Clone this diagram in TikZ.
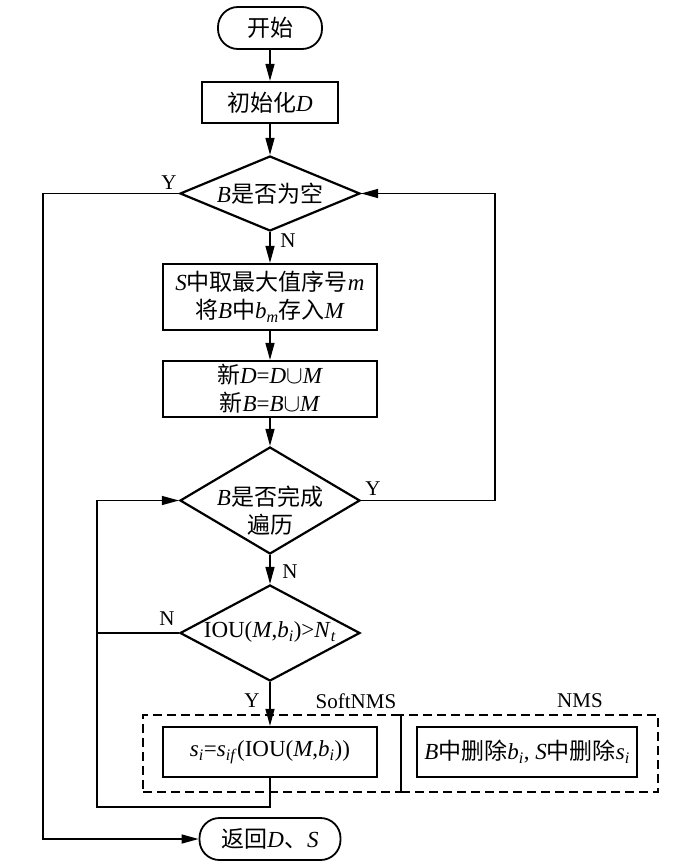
\documentclass[tikz,border=0pt]{standalone}
\usepackage{fontspec}
\setmainfont{Liberation Serif}
\newfontfamily\cjk{Noto Sans CJK SC}
\usetikzlibrary{shapes.geometric,arrows.meta}
\newcommand\zh[1]{{\cjk #1}}
\newcommand\vi[1]{\textit{#1}}
\newcommand\sub[1]{\textsubscript{\textit{#1}}}
\begin{document}
\begin{tikzpicture}[x=1pt,y=-1pt,
  every node/.style={font=\fontsize{23}{28}\selectfont},
  box/.style={draw,line width=2.2pt,rectangle,inner sep=0pt,align=center},
  term/.style={draw,line width=1.8pt,rounded corners=20pt,inner sep=0pt},
  dia/.style={draw,line width=2.2pt,diamond,inner sep=0pt},
  dbox/.style={draw,line width=1.3pt,dash pattern=on 9pt off 5pt,inner sep=0pt},
  conn/.style={line width=1.4pt},
  arr/.style={conn,-{Triangle[length=17pt,width=9pt]}},
  lab/.style={inner sep=0pt,font=\fontsize{21}{26}\selectfont}
]
\useasboundingbox (0,0) rectangle (700,862);

% dashed groups
\node[dbox,minimum width=258pt,minimum height=77pt] (soft) at (272,753.5) {};
\node[dbox,minimum width=257pt,minimum height=77pt] (nms) at (529.5,753.5) {};

% nodes
\node[term,minimum width=104pt,minimum height=42pt] (start) at (270,28) {\zh{开始}};
\node[box,minimum width=136pt,minimum height=41pt] (init) at (270,102.5) {\zh{初始化}\vi{D}};
\node[dia,minimum width=180pt,minimum height=75pt] (d1) at (270,193.5) {};
\node[inner sep=0pt] (d1t) at (270,193.5) {\vi{B}\zh{是否为空}};
\node[box,minimum width=214pt,minimum height=66pt] (sbox) at (270,297) {\vi{S}\zh{中取最大值序号}\vi{m}\\\zh{将}\vi{B}\zh{中}\vi{b}\sub{m}\zh{存入}\vi{M}};
\node[box,minimum width=214pt,minimum height=56pt] (nbox) at (270,389) {\zh{新}\vi{D}=\vi{D}$\cup$\vi{M}\\\zh{新}\vi{B}=\vi{B}$\cup$\vi{M}};
\node[dia,minimum width=180pt,minimum height=107pt] (d2) at (270,500.5) {};
\node[inner sep=0pt,align=center] (d2t) at (270,511) {\vi{B}\zh{是否完成}\\\zh{遍历}};
\node[dia,minimum width=180pt,minimum height=96pt] (d3) at (270,633) {};
\node[inner sep=0pt] (d3t) at (270,632) {IOU(\vi{M},\vi{b}\sub{i})>\vi{N}\sub{t}};
\node[box,minimum width=214pt,minimum height=50pt] (sibox) at (270,752) {\vi{s}\sub{i}=\vi{s}\sub{if}(IOU(\vi{M},\vi{b}\sub{i}))};
\node[box,minimum width=220pt,minimum height=50pt] (nmsbox) at (527,752) {\vi{B}\zh{中删除}\vi{b}\sub{i}, \vi{S}\zh{中删除}\vi{s}\sub{i}};
\node[term,minimum width=141pt,minimum height=42pt] (ret) at (270,839) {\zh{返回}\vi{D}\zh{、}\vi{S}};

% labels
\node[lab] (y1) at (169,183) {Y};
\node[lab] (n1) at (288,241) {N};
\node[lab] (y2) at (373,489) {Y};
\node[lab] (n2) at (290,572) {N};
\node[lab] (n3) at (167,619) {N};
\node[lab] (y3) at (252,701) {Y};
\node[lab] (softl) at (356,701) {SoftNMS};
\node[lab] (nmsl) at (580,701) {NMS};

% helper coordinates
\coordinate (lx) at (43,0);
\coordinate (rx) at (495,0);
\coordinate (mx) at (97,0);
\coordinate (by) at (0,807);

% connectors
\draw[arr] (start) -- (init);
\draw[arr] (init) -- (d1);
\draw[arr] (d1.south) -- (sbox.north);
\draw[arr] (sbox) -- (nbox);
\draw[arr] (nbox.south) -- (d2.north);
\draw[arr] (d2.south) -- (d3.north);
\draw[arr] (d3.south) -- (sibox.north);
\draw[arr] (d1.west) -- (d1.west -| lx) -- (ret.west -| lx) -- (ret.west);
\draw[arr] (d2.east) -- (d2.east -| rx) -- (d1.east -| rx) -- (d1.east);
\draw[arr] (sibox.south) -- (sibox.south |- by) -- (mx |- by) -- (mx |- d2.west) -- (d2.west);
\draw[conn] (d3.west) -- (d3.west -| mx);
\end{tikzpicture}
\end{document}
